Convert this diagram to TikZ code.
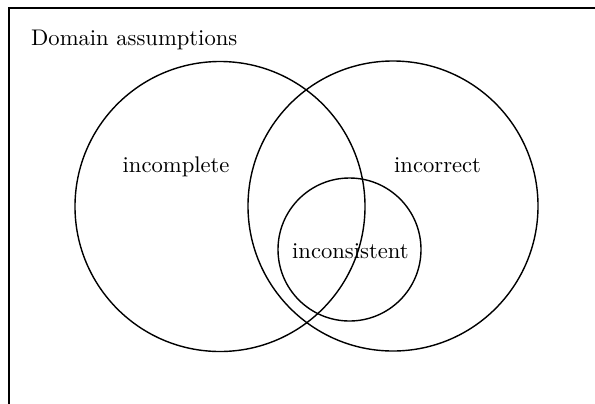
\documentclass[tikz,border=0pt]{standalone}
\usepackage{fontspec}
\setmainfont{lmroman10-regular}[Extension=.otf]
\begin{document}
\begin{tikzpicture}[x=1bp,y=-1bp,
  lbl/.style={anchor=base west, inner sep=0pt, font=\fontsize{22.7}{27}\selectfont},
  ring/.style={draw, circle, line width=1.4bp, inner sep=0pt}]
\useasboundingbox (0,0) rectangle (595,403);
\coordinate (tl) at (9,7.5);
\coordinate (tr) at (596,7.5);
\coordinate (bl) at (9,404);
\draw[line width=2bp] (tr) -- (tl) -- (bl);
\node[ring, minimum size=290bp] (left) at (220,206.5) {};
\node[ring, minimum size=290bp] (right) at (393,206) {};
\node[ring, minimum size=143bp] (small) at (349.5,249.5) {};
\node[lbl] (title) at (31,45.5) {Domain assumptions};
\node[lbl] (incomplete) at (122.5,172) {incomplete};
\node[lbl] (incorrect) at (394,172) {incorrect};
\node[lbl] (inconsistent) at (292,258) {inconsistent};
\end{tikzpicture}
\end{document}
